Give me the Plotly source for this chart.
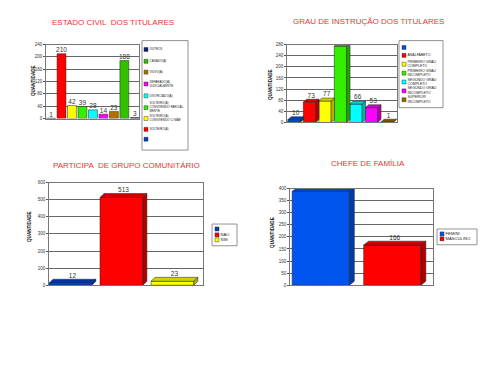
import plotly.graph_objects as go

# ---------------- data ----------------
c1_title = "ESTADO CIVIL  DOS TITULARES"
c1_values = [1, 210, 42, 39, 28, 14, 23, 188, 3]
c1_labels = [" ", "SOLTEIRO(A)", "SOLTEIRO(A)<br>CONVIVENDO C/ MÃE", "SOLTEIRO(A)<br>CONVIVENDO PARCIAL-<br>MENTE",
             "DIVORCIADO(A)", "SEPARADO(A)<br>JUDICIALMENTE", "VIÚVO(A)", "CASADO(A)", "OUTROS"]
c1_colors = ["#0040c8", "#ff0000", "#ffff00", "#33ee00", "#00ffff", "#ff00ff", "#b07000", "#33c000", "#102070"]

c2_title = "GRAU DE INSTRUÇÃO DOS TITULARES"
c2_values = [10, 73, 77, 274, 66, 53, 1]
c2_labels = [" ", "ANALFABETO", "PRIMEIRO GRAU<br>COMPLETO", "PRIMEIRO GRAU<br>INCOMPLETO",
             "SEGUNDO GRAU<br>COMPLETO", "SEGUNDO GRAU<br>INCOMPLETO", "SUPERIOR<br>INCOMPLETO"]
c2_colors = ["#0050e0", "#ff0000", "#ffff00", "#33ee00", "#00ffff", "#ff00ff", "#996600"]

c3_title = "PARTICIPA  DE GRUPO COMUNITÁRIO"
c3_values = [12, 513, 23]
c3_labels = [" ", "NAO", "SIM"]
c3_colors = ["#0040c0", "#ff0000", "#ffff00"]

c4_title = "CHEFE DE FAMÍLIA"
c4_values = [388, 166]
c4_labels = ["FEMINI", "MASCULINO"]
c4_colors = ["#0055ee", "#ff0000"]

y_title = "QUANTIDADE"

# page has an 8px body margin: the figure is sized to fit the window after it
OFF = 8
W, H = 500 - OFF, 375 - OFF


def px(x):
    return (x - OFF) / W


def py(y):
    return 1 - (y - OFF) / H


charts = [
    dict(title=c1_title, values=c1_values, labels=c1_labels, colors=c1_colors,
         xdom=(46, 139), ydom=(118, 43), yr=240, dtick=40, xr=(-0.48, 8.4), bw=0.85,
         dx=0.0, dyp=0, title_xy=(113, 21), ytitle_xy=(33, 80),
         leg=dict(box=(142, 39, 188, 150), mx=146, ys=[139, 129, 118, 107, 95, 83, 71, 60, 48], fs=3.0)),
    dict(title=c2_title, values=c2_values, labels=c2_labels, colors=c2_colors,
         xdom=(287, 397), ydom=(122, 43), yr=280, dtick=40, xr=(-0.45, 6.65), bw=0.8,
         dx=0.22, dyp=3, title_xy=(368, 20), ytitle_xy=(271, 84),
         leg=dict(box=(399, 39, 443, 107), mx=404, ys=[46, 54, 63, 72, 81, 90, 99], fs=3.5)),
    dict(title=c3_title, values=c3_values, labels=c3_labels, colors=c3_colors,
         xdom=(49, 203), ydom=(287, 183), yr=600, dtick=100, xr=(-0.42, 2.6), bw=0.84,
         dx=0.08, dyp=4, title_xy=(126, 166), ytitle_xy=(29, 228),
         leg=dict(box=(212, 225, 237, 247), mx=217, ys=[230, 236, 241], fs=4.0)),
    dict(title=c4_title, values=c4_values, labels=c4_labels, colors=c4_colors,
         xdom=(290, 433), ydom=(287, 189), yr=400, dtick=50, xr=(-0.43, 1.57), bw=0.8,
         dx=0.07, dyp=4, title_xy=(368, 164), ytitle_xy=(273, 234),
         leg=dict(box=(437, 230, 477, 246), mx=442, ys=[235, 240], fs=4.2)),
]


def shade(hexc, f=0.65):
    r, g, b = int(hexc[1:3], 16), int(hexc[3:5], 16), int(hexc[5:7], 16)
    return "rgb(%d,%d,%d)" % (r * f, g * f, b * f)


fig = go.Figure()
layout = dict(width=W, height=H, margin=dict(l=0, r=0, t=0, b=0), paper_bgcolor="white",
              plot_bgcolor="rgba(0,0,0,0)", showlegend=False, barmode="overlay",
              annotations=[], shapes=[])

for i, c in enumerate(charts, start=1):
    xa, ya = ("x%d" % i, "y%d" % i)
    xk, yk = ("xaxis%d" % i, "yaxis%d" % i)
    pxh = c["ydom"][0] - c["ydom"][1]
    dy = c["dyp"] * c["yr"] / pxh
    layout[xk] = dict(domain=[px(c["xdom"][0]), px(c["xdom"][1])], range=list(c["xr"]),
                      showticklabels=False, showgrid=False, zeroline=False, ticks="",
                      showline=True, linecolor="#777", linewidth=0.8, mirror=True,
                      anchor=ya, fixedrange=True)
    layout[yk] = dict(domain=[py(c["ydom"][0]), py(c["ydom"][1])], range=[0, c["yr"]],
                      dtick=c["dtick"], tick0=0, showgrid=True, gridcolor="#666", gridwidth=0.6,
                      zeroline=False, showline=True, linecolor="#777", linewidth=0.8, mirror=True,
                      ticks="outside", ticklen=2, tickcolor="#555",
                      tickfont=dict(size=4.5, color="#333", family="Liberation Sans, Arial"),
                      anchor=xa, fixedrange=True)
    n = len(c["values"])
    bw = c["bw"]
    for k in range(n):
        v = c["values"][k]
        col = c["colors"][k]
        fig.add_trace(go.Bar(x=[k], y=[v], width=bw, marker=dict(color=col, line=dict(color="#222", width=0.5)),
                             xaxis=xa, yaxis=ya, name=c["labels"][k]))
        if c["dx"] > 0:
            dxx = c["dx"]
            # side face
            fig.add_trace(go.Scatter(x=[k + bw / 2, k + bw / 2 + dxx, k + bw / 2 + dxx, k + bw / 2, k + bw / 2],
                                     y=[0, dy, v + dy, v, 0], fill="toself", fillcolor=shade(col, 0.7),
                                     mode="lines", line=dict(color="#222", width=0.5), xaxis=xa, yaxis=ya,
                                     hoverinfo="skip"))
            # top face
            fig.add_trace(go.Scatter(x=[k - bw / 2, k - bw / 2 + dxx, k + bw / 2 + dxx, k + bw / 2, k - bw / 2],
                                     y=[v, v + dy, v + dy, v, v], fill="toself", fillcolor=shade(col, 0.82),
                                     mode="lines", line=dict(color="#222", width=0.5), xaxis=xa, yaxis=ya,
                                     hoverinfo="skip"))
    # value labels
    fig.add_trace(go.Scatter(x=[k + c["dx"] / 2 for k in range(n)], y=[v + dy for v in c["values"]],
                             mode="text", text=[str(v) for v in c["values"]], textposition="top center",
                             textfont=dict(size=6.5, color="#333", family="Liberation Sans, Arial"),
                             cliponaxis=False, xaxis=xa, yaxis=ya, hoverinfo="skip"))
    # titles
    layout["annotations"].append(dict(text=c["title"], x=px(c["title_xy"][0]), y=py(c["title_xy"][1]),
                                      xref="paper", yref="paper", showarrow=False,
                                      xanchor="center", yanchor="middle",
                                      font=dict(size=8, color="#ee3333", family="Liberation Sans, Arial")))
    layout["annotations"].append(dict(text="<b>%s</b>" % y_title, x=px(c["ytitle_xy"][0]),
                                      y=py(c["ytitle_xy"][1]), xref="paper", yref="paper",
                                      xanchor="center", yanchor="middle",
                                      showarrow=False, textangle=-90,
                                      font=dict(size=4.6, color="#111", family="Liberation Sans, Arial")))
    # legend (drawn on pixel overlay axis)
    lg = c["leg"]
    layout["shapes"].append(dict(type="rect", xref="x9", yref="y9", x0=lg["box"][0], y0=lg["box"][1],
                                 x1=lg["box"][2], y1=lg["box"][3], line=dict(color="#777", width=0.8),
                                 fillcolor="white", layer="below"))
    fig.add_trace(go.Scatter(x=[lg["mx"]] * n, y=lg["ys"], mode="markers+text",
                             marker=dict(symbol="square", size=4, color=c["colors"],
                                         line=dict(color="#222", width=0.4)),
                             text=[t for t in c["labels"]], textposition="middle right",
                             textfont=dict(size=lg["fs"], color="#222", family="Liberation Sans, Arial"),
                             xaxis="x9", yaxis="y9", hoverinfo="skip", cliponaxis=False))

layout["xaxis9"] = dict(domain=[0, 1], range=[OFF, OFF + W], visible=False, anchor="y9", fixedrange=True)
layout["yaxis9"] = dict(domain=[0, 1], range=[OFF + H, OFF], visible=False, anchor="x9", fixedrange=True)

fig.update_layout(**layout)
fig.write_html("out.html")
